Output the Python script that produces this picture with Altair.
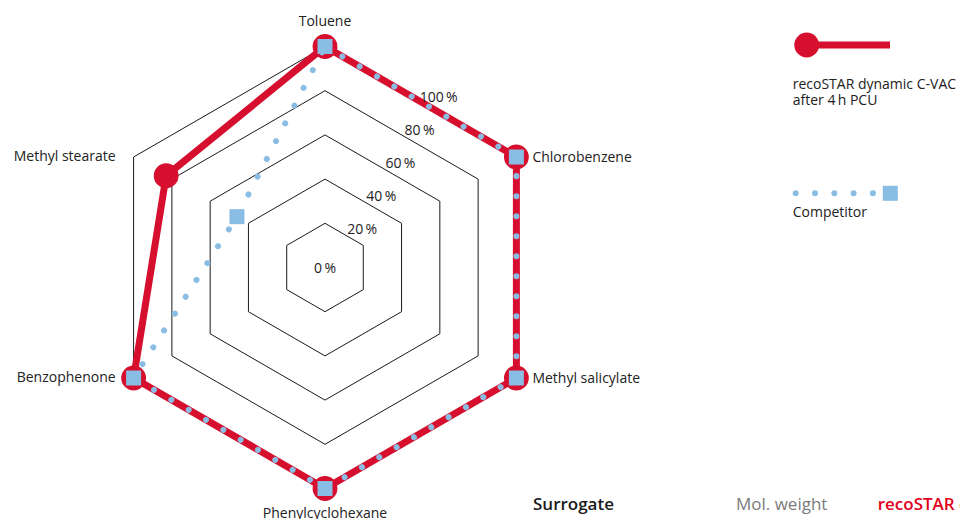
import math
import altair as alt
import pandas as pd

# ---------------- data ----------------
categories = ["Toluene", "Chlorobenzene", "Methyl salicylate",
              "Phenylcyclohexane", "Benzophenone", "Methyl stearate"]
recostar = [100, 100, 100, 100, 100, 83]
competitor = [100, 100, 100, 100, 100, 46]
ring_values = [20, 40, 60, 80, 100]
ring_texts = ["20\u2009%", "40\u2009%", "60\u2009%", "80\u2009%", "100\u2009%"]
center_text = ["0\u2009%"]
legend_reco = ["recoSTAR dynamic C-VAC", "after 4\u2009h PCU"]
legend_comp = ["Competitor"]
header_texts = ["Surrogate", "Mol. weight", "recoSTAR dynamic C-VAC"]

# ---------------- style / layout ----------------
RED = "#d50f2d"
BLUE = "#8abde4"
FONT = "Open Sans"
W, H = 952, 511
PX = 2.21                 # pixels per percent of radius
CX, CY = 317.0, 259.5     # centre of the radar in plot pixels
xdom = [-CX / PX, (W - CX) / PX]
ydom = [-(H - CY) / PX, CY / PX]

n = len(categories)
angles = [math.radians(90 - 360.0 / n * i) for i in range(n)]


def series_df(values, name):
    return pd.DataFrame({
        "idx": list(range(n)),
        "cat": categories,
        "series": name,
        "x": [v * math.cos(a) for v, a in zip(values, angles)],
        "y": [v * math.sin(a) for v, a in zip(values, angles)],
    })


reco_df = series_df(recostar, "reco")
comp_df = series_df(competitor, "comp")

grid_rows = []
for r in ring_values:
    for i, a in enumerate(angles):
        grid_rows.append({"ring": r, "idx": i, "x": r * math.cos(a), "y": r * math.sin(a)})
grid_df = pd.DataFrame(grid_rows)

# category labels at 100 % radius
lab_rows = []
for c, a in zip(categories, angles):
    cx, cy = math.cos(a), math.sin(a)
    if abs(cx) < 1e-6:
        side = "top" if cy > 0 else "bottom"
    else:
        side = "right" if cx > 0 else "left"
    lab_rows.append({"cat": c, "x": 100 * cx, "y": 100 * cy, "side": side})
lab_df = pd.DataFrame(lab_rows)

# ring labels at the middle of the upper-right edge of each ring
edge_a = math.radians(60)
ring_df = pd.DataFrame({
    "t": ring_texts,
    "x": [v * math.cos(math.radians(30)) * math.cos(edge_a) for v in ring_values],
    "y": [v * math.cos(math.radians(30)) * math.sin(edge_a) for v in ring_values],
})
center_df = pd.DataFrame({"t": center_text, "x": [0.0], "y": [0.0]})

X = alt.X("x:Q", scale=alt.Scale(domain=xdom, nice=False, zero=False), axis=None)
Y = alt.Y("y:Q", scale=alt.Scale(domain=ydom, nice=False, zero=False), axis=None)

grid = alt.Chart(grid_df).mark_line(
    interpolate="linear-closed", color="#1a1a1a", strokeWidth=1
).encode(x=X, y=Y, detail="ring:N", order="idx:Q")

red_line = alt.Chart(reco_df).mark_line(
    interpolate="linear-closed", color=RED, strokeWidth=7, strokeJoin="round"
).encode(x=X, y=Y, order="idx:Q")

red_pts = alt.Chart(reco_df).mark_point(
    shape="circle", filled=True, size=616, color=RED, opacity=1
).encode(x=X, y=Y)

blue_line = alt.Chart(comp_df).mark_line(
    interpolate="linear-closed", color=BLUE, strokeWidth=6,
    strokeDash=[0.01, 20], strokeCap="round"
).encode(x=X, y=Y, order="idx:Q")

blue_pts = alt.Chart(comp_df).mark_point(
    shape="square", filled=True, size=225, color=BLUE, opacity=1
).encode(x=X, y=Y)

txt = dict(font=FONT, fontSize=14, color="#222222", baseline="middle")


def cat_layer(side, **kw):
    return alt.Chart(lab_df).transform_filter(
        alt.datum.side == side
    ).mark_text(**txt, **kw).encode(x=X, y=Y, text="cat:N")


labels = [
    cat_layer("top", align="center", dy=-25),
    cat_layer("bottom", align="center", dy=25),
    cat_layer("right", align="left", dx=16, dy=1),
    cat_layer("left", align="right", dx=-18, dy=0),
]

ring_lab = alt.Chart(ring_df).mark_text(
    **txt, align="center", dx=18, dy=-4
).encode(x=X, y=Y, text="t:N")
center_lab = alt.Chart(center_df).mark_text(
    **txt, align="center", dy=1
).encode(x=X, y=Y, text="t:N")

# ---------------- legend ----------------
one = pd.DataFrame({"s": [0]})
leg_red_line = alt.Chart(one).mark_rule(
    color=RED, strokeWidth=7
).encode(x=alt.value(798.7), x2=alt.value(882), y=alt.value(37))
leg_red_pt = alt.Chart(one).mark_point(
    shape="circle", filled=True, size=616, color=RED, opacity=1
).encode(x=alt.value(798.7), y=alt.value(37))
leg_red_txt = alt.Chart(pd.DataFrame({"t": ["\n".join(legend_reco)]})).mark_text(
    **txt, align="left", lineBreak="\n", lineHeight=16.5
).encode(x=alt.value(784.7), y=alt.value(76.7), text="t:N")

leg_blue_line = alt.Chart(one).mark_rule(
    color=BLUE, strokeWidth=6, strokeDash=[0.01, 19.3], strokeCap="round"
).encode(x=alt.value(787.7), x2=alt.value(872), y=alt.value(185.3))
leg_blue_pt = alt.Chart(one).mark_point(
    shape="square", filled=True, size=225, color=BLUE, opacity=1
).encode(x=alt.value(882.3), y=alt.value(185.3))
leg_blue_txt = alt.Chart(pd.DataFrame({"t": legend_comp})).mark_text(
    **txt, align="left"
).encode(x=alt.value(784.7), y=alt.value(204.7), text="t:N")

# ---------------- table header at the bottom ----------------
hdr_style = [("#1a1a1a", 600, 525), ("#7a7a7a", "normal", 728), ("#e2001a", 600, 869.7)]
headers = []
for t, (col, fw, px) in zip(header_texts, hdr_style):
    headers.append(
        alt.Chart(pd.DataFrame({"t": [t]})).mark_text(
            font=FONT, fontSize=17, fontWeight=fw, color=col,
            align="left", baseline="middle"
        ).encode(x=alt.value(px), y=alt.value(497), text="t:N")
    )

chart = alt.layer(
    grid, red_line, red_pts, blue_line, blue_pts,
    *labels, ring_lab, center_lab,
    leg_red_line, leg_red_pt, leg_red_txt,
    leg_blue_line, leg_blue_pt, leg_blue_txt,
    *headers,
).properties(
    width=W, height=H, padding=0,
    autosize=alt.AutoSizeParams(type="none"),
).configure_view(stroke=None)

chart.save("out.html", embed_options={"renderer": "svg", "actions": False})
